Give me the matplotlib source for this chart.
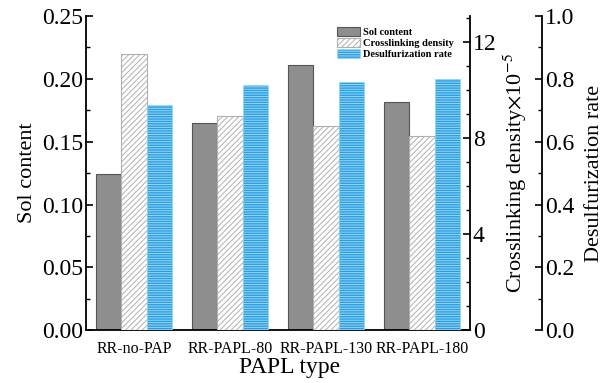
import matplotlib
matplotlib.use("Agg")
import matplotlib.pyplot as plt
import numpy as np
from matplotlib.ticker import MultipleLocator

plt.rcParams['font.family'] = ['Liberation Serif', 'DejaVu Serif']
plt.rcParams['mathtext.fontset'] = 'stix'
plt.rcParams['hatch.linewidth'] = 0.7

# data
types = ["RR-no-PAP", "RR-PAPL-80", "RR-PAPL-130", "RR-PAPL-180"]
sol_content = [0.124, 0.165, 0.211, 0.182]
crosslink = [11.5, 8.93, 8.5, 8.07]          # x 10^-5
desulf_rate = [0.717, 0.781, 0.791, 0.801]

x = np.arange(len(types))
w = 0.8 / 3

fig = plt.figure(figsize=(6.15, 3.83), dpi=100)
ax = fig.add_axes([0.140, 0.138, 0.624, 0.820])
ax2 = ax.twinx()
ax3 = ax.twinx()
ax3.spines['right'].set_position(('outward', 52))   # ~72 px at 100 dpi

b1 = ax.bar(x - w, sol_content, w, color='#8e8e8e', edgecolor='#555555', linewidth=0.8,
            label='Sol content')
b2 = ax2.bar(x, crosslink, w, color='white', edgecolor='#b0b0b0', hatch='//////',
             linewidth=0.8, label='Crosslinking density')
b3 = ax3.bar(x + w, desulf_rate, w, color='#2a9fe0', edgecolor='#9ad8f7', hatch='-------',
             linewidth=0.5, label='Desulfurization rate')

ax.set_xlim(-0.5, 3.5)
ax.set_ylim(0, 0.25)
ax2.set_ylim(0, 13.08)
ax3.set_ylim(0, 1.0)

for a in (ax, ax2, ax3):
    a.spines['top'].set_visible(False)
ax.spines['right'].set_visible(False)
ax2.spines['left'].set_visible(False)
ax3.spines['left'].set_visible(False)
ax3.spines['bottom'].set_visible(False)
ax2.spines['bottom'].set_visible(False)
for a in (ax, ax2, ax3):
    for s in a.spines.values():
        s.set_linewidth(1.3)

ax.yaxis.set_major_locator(MultipleLocator(0.05))
ax.yaxis.set_minor_locator(MultipleLocator(0.025))
ax.yaxis.set_major_formatter(plt.FuncFormatter(lambda v, p: f"{v:.2f}"))
ax2.yaxis.set_major_locator(MultipleLocator(4))
ax2.yaxis.set_minor_locator(MultipleLocator(1))
ax3.yaxis.set_major_locator(MultipleLocator(0.2))
ax3.yaxis.set_minor_locator(MultipleLocator(0.1))
ax3.yaxis.set_major_formatter(plt.FuncFormatter(lambda v, p: f"{v:.1f}"))

for a in (ax, ax2, ax3):
    a.tick_params(axis='y', which='major', direction='in', length=5, width=1.2, labelsize=17, pad=2)
    a.tick_params(axis='y', which='minor', direction='in', length=3, width=1.0)

ax.set_xticks(x)
ax.set_xticklabels(types)
ax.tick_params(axis='x', length=0, labelsize=11.5, pad=8)

ax.set_xlabel("PAPL type", fontsize=17, labelpad=0)
ax.xaxis.set_label_coords(0.53, -0.085)
ax.set_ylabel("Sol content", fontsize=16, labelpad=4)
ax2.set_ylabel("Crosslinking density$\\times$10$^{-5}$", fontsize=16, labelpad=4)
ax3.set_ylabel("Desulfurization rate", fontsize=16, labelpad=8)

leg = ax.legend([b1, b2, b3], [b1.get_label(), b2.get_label(), b3.get_label()],
                loc='upper left', bbox_to_anchor=(0.635, 0.99), frameon=False,
                fontsize=7.5, handlelength=2.2, handleheight=1.0, labelspacing=0.1,
                handletextpad=0.3, borderaxespad=0.3)
for t in leg.get_texts():
    t.set_fontweight('bold')

fig.savefig("out.png", dpi=100)
